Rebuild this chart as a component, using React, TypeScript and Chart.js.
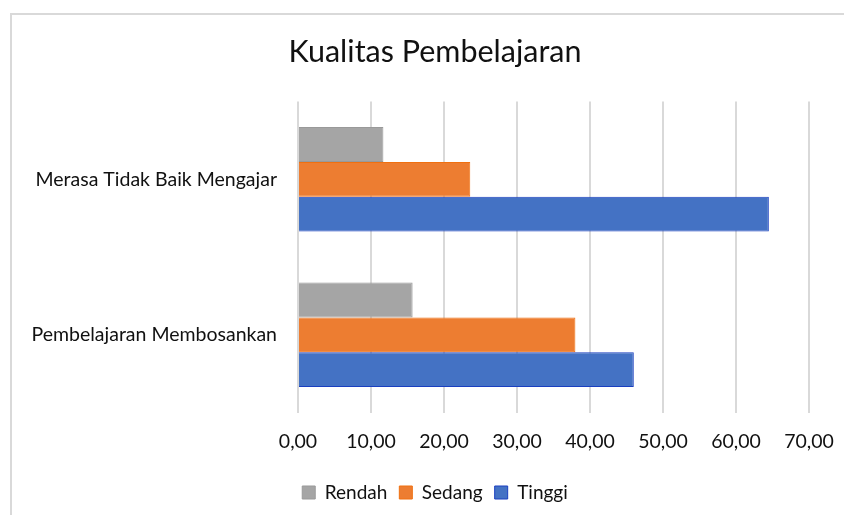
import React, { useEffect, useRef } from "react";
import { Chart, registerables } from "chart.js";

Chart.register(...registerables);

const categories = ["Merasa Tidak Baik Mengajar", "Pembelajaran Membosankan"];
const seriesNames = ["Rendah", "Sedang", "Tinggi"];
const rendah = [11.7, 15.7];
const sedang = [23.6, 38.0];
const tinggi = [64.5, 46.0];
const xMin = 0;
const xMax = 70;
const xStep = 10;
const titleText = "Kualitas Pembelajaran";

const FONT = "Lato, 'Open Sans', sans-serif";

const framePlugin = {
  id: "frame",
  beforeDraw(chart: any) {
    const ctx = chart.ctx;
    ctx.save();
    ctx.fillStyle = "#ffffff";
    ctx.fillRect(0, 0, chart.width, chart.height);
    ctx.strokeStyle = "#d9d9d9";
    ctx.lineWidth = 2;
    ctx.beginPath();
    ctx.moveTo(11, chart.height + 2);
    ctx.lineTo(11, 14);
    ctx.lineTo(chart.width + 2, 14);
    ctx.stroke();
    ctx.restore();
  },
};

export default function App() {
  const ref = useRef<HTMLCanvasElement>(null);

  useEffect(() => {
    if (!ref.current) return;
    const chart = new Chart(ref.current, {
      type: "bar",
      data: {
        labels: categories,
        datasets: [
          {
            label: seriesNames[0],
            data: rendah,
            backgroundColor: "#a5a5a5",
            borderColor: "#999999",
            borderWidth: 1,
          },
          {
            label: seriesNames[1],
            data: sedang,
            backgroundColor: "#ed7d31",
            borderColor: "#f07010",
            borderWidth: 1,
          },
          {
            label: seriesNames[2],
            data: tinggi,
            backgroundColor: "#4472c4",
            borderColor: "#1a3fc0",
            borderWidth: 1,
          },
        ],
      },
      options: {
        indexAxis: "y",
        responsive: false,
        animation: false,
        layout: { padding: { left: 26, right: 0, top: 0, bottom: 3 } },
        datasets: {
          bar: { categoryPercentage: 0.672, barPercentage: 1.0 },
        },
        scales: {
          x: {
            min: xMin,
            max: xMax,
            ticks: {
              stepSize: xStep,
              padding: 17.5,
              color: "#111111",
              font: { family: FONT, size: 19.5 },
              callback: (v: any) => Number(v).toFixed(2).replace(".", ","),
            },
            grid: { color: "#d9d9d9", lineWidth: 2, drawTicks: false },
            border: { display: false },
            afterFit: (scale: any) => {
              scale.paddingRight = 35;
            },
          },
          y: {
            position: "left",
            ticks: {
              padding: 21,
              color: "#111111",
              font: { family: FONT, size: 19.5 },
            },
            grid: { display: false, drawTicks: false },
            border: { display: false },
            afterFit: (scale: any) => {
              scale.width = 272;
            },
          },
        },
        plugins: {
          title: {
            display: true,
            text: titleText,
            color: "#111111",
            font: { family: FONT, size: 30.5, weight: "normal" },
            padding: { top: 34, bottom: 31 },
          },
          legend: {
            position: "bottom",
            labels: {
              boxWidth: 13,
              boxHeight: 13,
              padding: 12,
              color: "#111111",
              font: { family: FONT, size: 19 },
            },
          },
          tooltip: { enabled: false },
        },
      },
      plugins: [framePlugin],
    });
    return () => chart.destroy();
  }, []);

  return (
    <div style={{ position: "fixed", left: 0, top: 0, width: 844, height: 515, background: "#fff" }}>
      <canvas ref={ref} width={844} height={515} style={{ display: "block" }} />
    </div>
  );
}
